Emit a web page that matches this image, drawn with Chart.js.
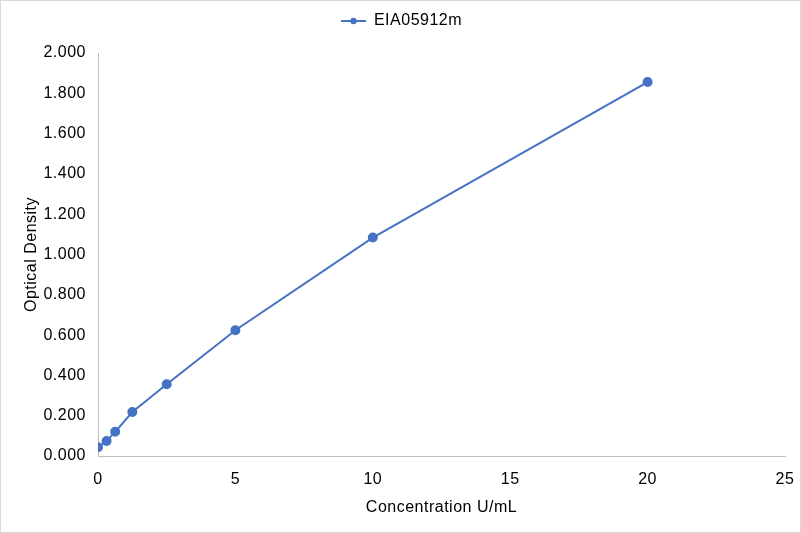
<!DOCTYPE html>
<html>
<head>
<meta charset="utf-8">
<script src="https://cdn.jsdelivr.net/npm/chart.js@4/dist/chart.umd.min.js"></script>
<style>
  body { margin: 0; background: #fff; }
  #wrap { width: 801px; height: 533px; box-sizing: border-box; border: 1px solid #d9d9d9; }
</style>
</head>
<body>
<div id="wrap"><canvas id="stdCurve" width="799" height="531"></canvas></div>
<script>
var seriesName = 'EIA05912m';
var concentration = [0, 0.3125, 0.625, 1.25, 2.5, 5, 10, 20];
var density = [0.043, 0.074, 0.120, 0.218, 0.356, 0.624, 1.084, 1.856];
var xTicks = [0, 5, 10, 15, 20, 25];
var yTicks = [0, 0.2, 0.4, 0.6, 0.8, 1.0, 1.2, 1.4, 1.6, 1.8, 2.0];

var blue = '#4472C4';
var textFont = { family: '"Liberation Sans", Arial, sans-serif', size: 16 };

// little line-with-dot marker for the legend
var marker = document.createElement('canvas');
marker.width = 25; marker.height = 10;
var mctx = marker.getContext('2d');
mctx.strokeStyle = blue; mctx.lineWidth = 2;
mctx.beginPath(); mctx.moveTo(0, 5); mctx.lineTo(25, 5); mctx.stroke();
mctx.fillStyle = blue;
mctx.beginPath(); mctx.arc(12.5, 5, 3.2, 0, Math.PI * 2); mctx.fill();

// keep the legend box tall enough so the plot starts where the reference does
var legendSpace = {
    id: 'legendSpace',
    afterInit: function (chart) {
        var lg = chart.legend;
        var origFit = lg.fit;
        lg.fit = function () { origFit.call(this); this.height = 43; };
    }
};

// slightly wider text, like the original's rendering
var spacing = {
    id: 'spacing',
    beforeLayout: function (chart) { chart.ctx.letterSpacing = '0.5px'; },
    beforeDraw: function (chart) { chart.ctx.letterSpacing = '0.5px'; }
};

var ctx = document.getElementById('stdCurve');
new Chart(ctx, {
    type: 'scatter',
    data: {
        datasets: [{
            label: seriesName,
            data: concentration.map(function (c, i) { return { x: c, y: density[i] }; }),
            showLine: true,
            borderColor: blue,
            backgroundColor: blue,
            borderWidth: 2,
            pointRadius: 4,
            pointStyle: 'circle'
        }]
    },
    plugins: [legendSpace, spacing],
    options: {
        responsive: false,
        animation: false,
        layout: { padding: { left: 17, right: 15, top: 9, bottom: 11 } },
        plugins: {
            tooltip: { enabled: false },
            legend: {
                position: 'top',
                labels: {
                    color: '#000',
                    font: textFont,
                    usePointStyle: true,
                    pointStyleWidth: 25,
                    padding: 3,
                    generateLabels: function (chart) {
                        return [{ text: seriesName, pointStyle: marker, fontColor: '#000', datasetIndex: 0 }];
                    }
                }
            }
        },
        scales: {
            x: {
                type: 'linear',
                min: 0, max: 25,
                afterBuildTicks: function (s) { s.ticks = xTicks.map(function (v) { return { value: v }; }); },
                grid: { display: false, drawTicks: false },
                border: { display: true, color: '#bfbfbf', width: 1 },
                ticks: { color: '#000', font: textFont, padding: 14 },
                title: { display: true, text: 'Concentration U/mL', color: '#000', font: textFont },
                afterFit: function (s) { s.height = 65; s.paddingLeft = 0; s.paddingRight = 0; }
            },
            y: {
                type: 'linear',
                min: 0, max: 2,
                afterBuildTicks: function (s) { s.ticks = yTicks.map(function (v) { return { value: v }; }); },
                grid: { display: false, drawTicks: false },
                border: { display: true, color: '#bfbfbf', width: 1 },
                ticks: {
                    color: '#000', font: textFont, padding: 12,
                    callback: function (v) { return v.toFixed(3); }
                },
                title: { display: true, text: 'Optical Density', color: '#000', font: textFont },
                afterFit: function (s) { s.width = 80; }
            }
        }
    }
});
</script>
</body>
</html>
